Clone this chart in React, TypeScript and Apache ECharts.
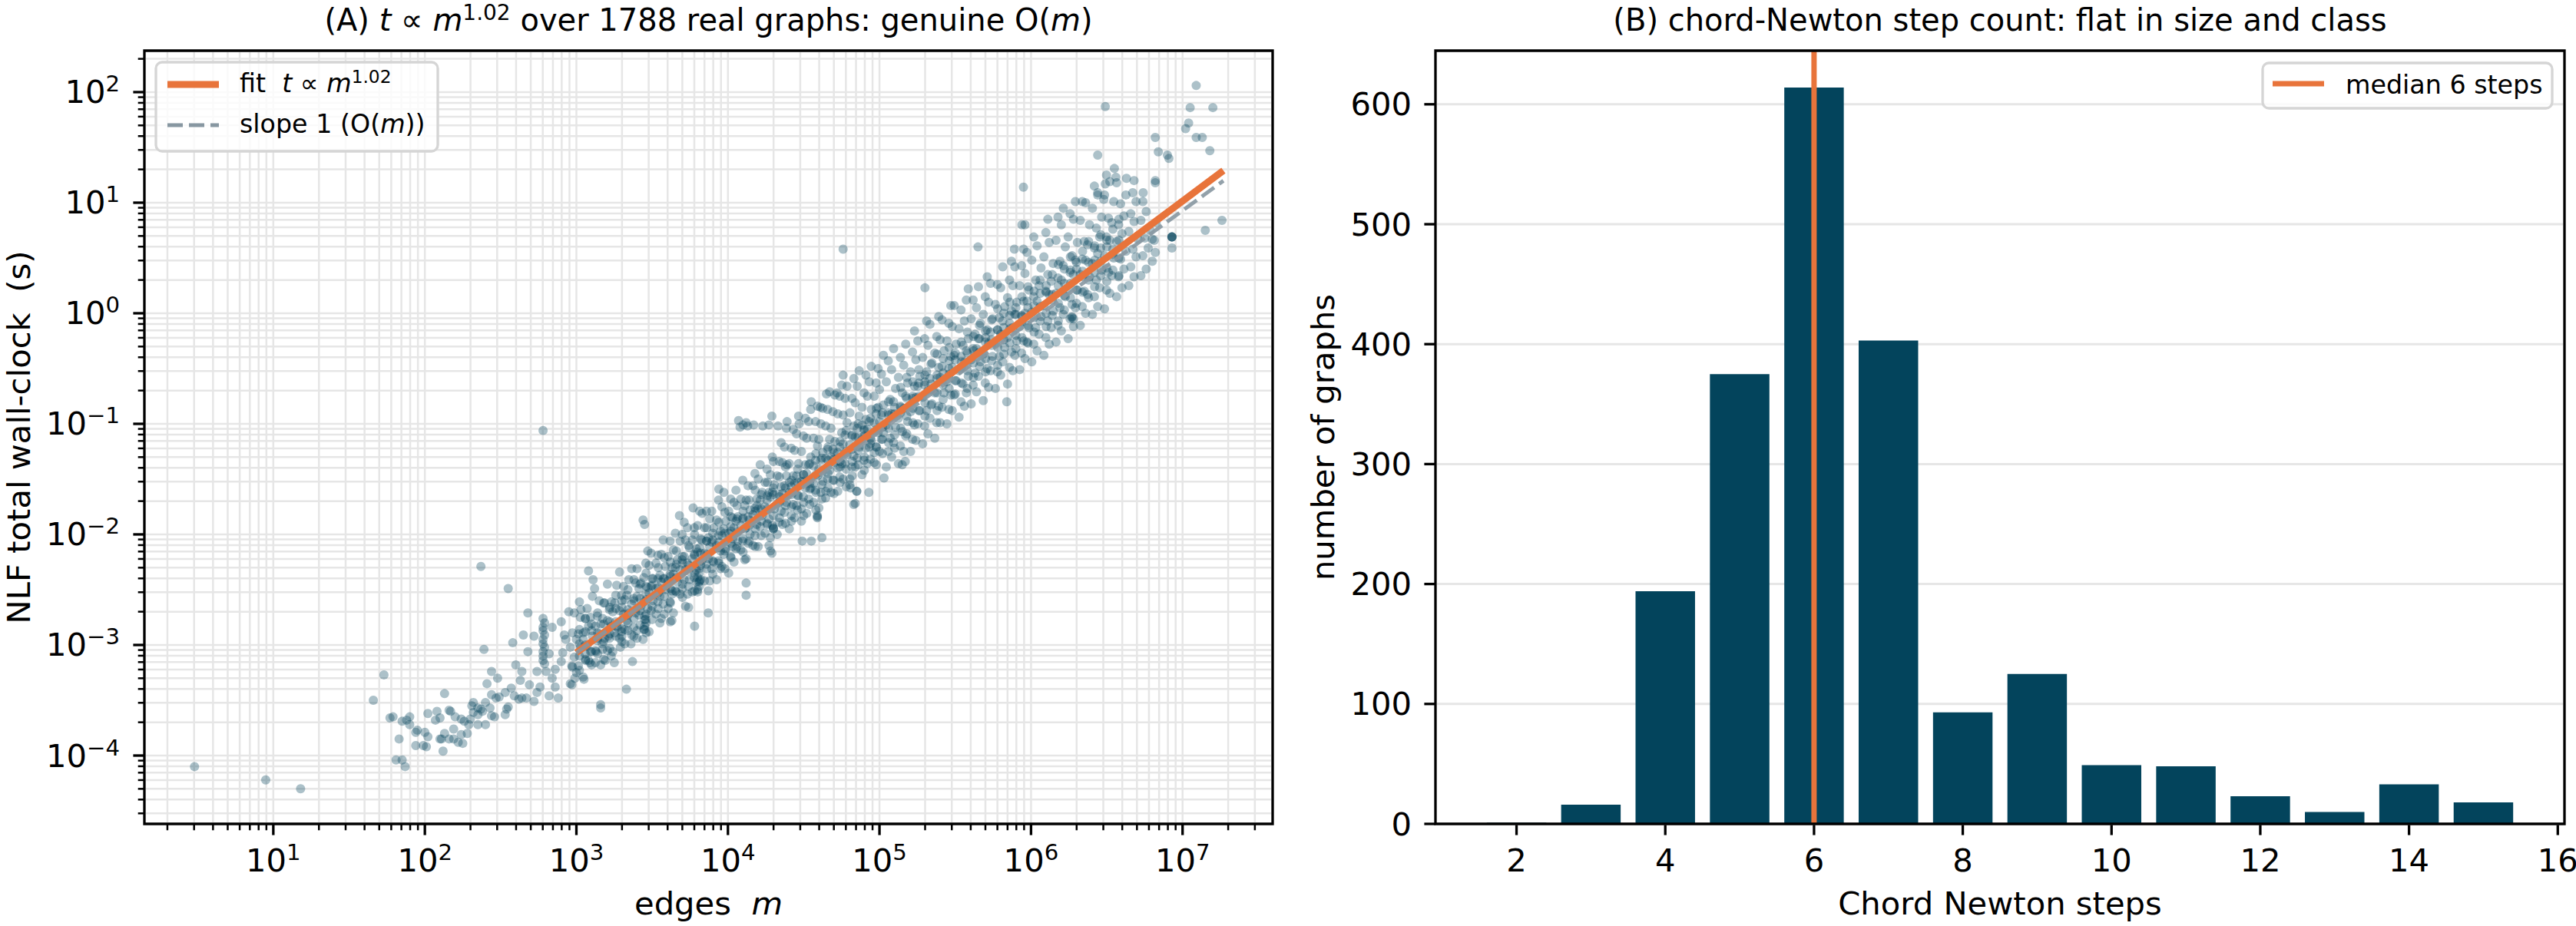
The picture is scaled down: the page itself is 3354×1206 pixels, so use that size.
import React, { useEffect, useRef } from "react";
import * as echarts from "echarts";

const FONT = "DejaVu Sans";
const INK = "#000000";
const DOT = "#03435a";
const BAR = "#03445c";
const ORANGE = "#e8743b";
const SLOPE = "#8797a1";
const GRIDC = "#e6e6e6";

// ---------------- Panel A : points, as [log10 m, log10 t] ----------------
const farLeftPoints = [[0.48, -4.10], [0.95, -4.22], [1.18, -4.30]];

const tailPoints = [
  [1.66, -3.50], [1.73, -3.27], [1.77, -3.66], [1.79, -3.65], [1.81, -4.04], [1.85, -4.04], [1.87, -4.10], [1.83, -3.85],
  [1.85, -3.69], [1.88, -3.68], [1.90, -3.65], [1.90, -3.72], [1.94, -3.79], [1.95, -3.77], [1.94, -3.91], [1.99, -3.91],
  [2.01, -3.92], [2.00, -3.79], [2.02, -3.62], [2.02, -3.83], [2.07, -3.68], [2.08, -3.60], [2.10, -3.66], [2.10, -3.85],
  [2.11, -3.85], [2.12, -3.96], [2.13, -3.80], [2.13, -3.44], [2.16, -3.59], [2.16, -3.85], [2.17, -3.60], [2.19, -3.76],
  [2.19, -3.85], [2.20, -3.65], [2.22, -3.88], [2.24, -3.67], [2.24, -3.81], [2.25, -3.89], [2.28, -3.80], [2.29, -3.72],
  [2.26, -3.69], [2.30, -3.67], [2.32, -3.61], [2.32, -3.52], [2.31, -3.55], [2.35, -3.57], [2.35, -3.63], [2.35, -3.72],
  [2.37, -3.58], [2.38, -3.60], [2.40, -3.72], [2.40, -3.52], [2.43, -3.57], [2.44, -3.45], [2.44, -3.64], [2.46, -3.65],
  [2.47, -3.48], [2.49, -3.47], [2.53, -3.43], [2.53, -3.63], [2.54, -3.58], [2.55, -3.56], [2.57, -3.39], [2.59, -3.46],
  [2.62, -3.49], [2.63, -3.32], [2.64, -3.48], [2.64, -3.24], [2.60, -3.18], [2.67, -3.48], [2.69, -3.36], [2.72, -3.51],
  [2.74, -3.43], [2.48, -3.30], [2.44, -3.24], [2.41, -3.35], [2.39, -3.04], [2.58, -2.98], [2.65, -2.91], [2.68, -2.71],
  [2.55, -2.49], [2.37, -2.29], [2.78, -1.06],
];

const columnPoints = [
  [2.78, -2.76], [2.79, -2.80], [2.78, -2.84], [2.78, -2.87], [2.79, -2.91], [2.78, -2.95], [2.78, -2.99], [2.79, -3.02],
  [2.78, -3.06], [2.78, -3.10], [2.78, -3.14], [2.79, -3.17],
  [3.45, -2.74], [3.45, -2.77], [3.46, -2.80], [3.45, -2.83], [3.45, -2.86], [3.46, -2.89],
  [3.81, -2.31], [3.81, -2.35], [3.80, -2.39], [3.81, -2.43], [3.81, -2.47], [3.80, -2.50],
  [3.16, -3.54], [3.16, -3.57],
];

const darkSpots = [
  [6.27, -0.04], [6.27, -0.03], [6.28, -0.05], [4.85, -1.61], [4.30, -1.94], [4.30, -1.95], [4.59, -1.84],
  [6.93, 0.69], [4.84, -1.72],
];

const nearFitStartPoints = [
  [2.72, -2.92], [2.68, -3.06], [2.82, -3.08], [2.86, -3.22], [2.80, -3.24], [2.84, -3.30], [2.74, -3.24], [2.76, -3.38],
  [2.82, -3.46], [2.88, -3.48], [2.86, -3.38], [2.90, -3.15], [2.91, -3.07], [2.84, -2.84], [2.90, -2.79], [2.93, -2.95],
  [2.92, -2.91], [2.95, -2.70], [3.02, -2.61], [3.03, -2.68], [2.97, -3.19], [3.06, -3.14], [3.09, -3.16], [3.05, -3.31],
  [2.97, -3.36], [2.99, -3.30], [3.08, -2.33], [3.11, -2.41], [3.12, -2.49], [3.33, -3.40], [3.37, -3.15], [3.25, -3.16],
  [3.19, -3.14], [3.23, -3.10], [3.13, -3.06], [3.17, -2.99], [3.21, -2.92], [3.29, -3.02], [3.36, -2.99], [3.30, -2.92],
  [3.27, -2.84], [3.34, -2.80], [3.40, -2.87], [3.44, -2.95],
];

const lowOutliers = [
  [3.62, -2.79], [3.63, -2.78], [3.78, -2.83], [3.74, -2.66], [3.87, -2.71], [4.12, -2.44], [4.12, -2.55], [4.29, -2.17],
  [4.28, -2.15], [4.62, -2.03], [4.55, -2.06], [4.49, -2.06], [4.59, -1.83], [4.59, -1.85], [4.83, -1.73], [4.85, -1.61],
  [4.81, -1.58], [4.93, -1.62], [5.03, -1.49], [5.15, -1.37], [5.17, -1.34], [5.84, -0.80],
];

const highOutliers = [
  [3.44, -1.87], [3.45, -1.91], [3.68, -1.83], [3.77, -1.76], [3.83, -1.81], [3.94, -1.59], [4.30, -1.34], [4.39, -1.37],
  [4.76, -0.56], [4.65, -0.73], [4.72, -0.72], [4.55, -0.80], [4.61, -0.85], [4.76, 0.58], [5.30, 0.23], [5.65, 0.60],
  [5.89, 0.58], [5.94, 0.80], [5.96, 0.80],
];

const rowPoints = [
  [4.07, -0.97], [4.08, -1.03], [4.10, -1.01], [4.12, -0.99], [4.13, -1.02], [4.17, -1.01], [4.23, -1.02], [4.27, -1.01],
  [4.29, -0.93], [4.33, -1.02], [4.39, -0.98], [4.47, -1.00],
];

const rightPoints = [
  [7.09, 2.06], [7.05, 1.86], [7.20, 1.86], [6.49, 1.87], [7.04, 1.72], [7.02, 1.67], [7.09, 1.59], [7.13, 1.59],
  [7.18, 1.47], [6.82, 1.59], [6.84, 1.46], [6.90, 1.43], [6.91, 1.40], [6.44, 1.43], [6.55, 1.31], [6.56, 1.23],
  [6.63, 1.22], [6.68, 1.20], [6.49, 1.17], [6.44, 1.09], [6.48, 1.03], [6.82, 1.20], [6.82, 1.18], [6.74, 1.09],
  [5.95, 1.14], [6.80, 0.67], [6.82, 0.55], [6.93, 0.69], [6.93, 0.69], [6.93, 0.69], [6.93, 0.59], [7.15, 0.75],
  [7.26, 0.84],
];

// spread of the band: [log10 m, [log10 t of the points in that thin column]]
const bandSlices: [number, number[]][] = [
  [2.96, [-3.35, -3.02]], [2.973, [-3.20, -2.89]], [2.986, [-3.11, -2.71]],
  [3.00, [-3.25, -2.95]], [3.013, [-3.19, -2.90]], [3.026, [-3.02, -2.75]],
  [3.045, [-3.29, -2.89, -2.95]], [3.058, [-3.08, -2.76]], [3.071, [-3.01, -2.67]],
  [3.08, [-3.14, -2.83]], [3.093, [-3.06, -2.75]], [3.106, [-2.92, -2.56]],
  [3.125, [-3.16, -2.83, -3.05]], [3.138, [-2.96, -2.74]], [3.151, [-2.90, -2.60]],
  [3.16, [-3.18, -2.81]], [3.173, [-3.04, -2.76]], [3.186, [-2.94, -2.62]],
  [3.205, [-3.05, -2.78, -2.45]], [3.218, [-2.94, -2.68]], [3.231, [-2.83, -2.61]],
  [3.24, [-3.06, -2.70]], [3.253, [-2.89, -2.62]], [3.266, [-2.83, -2.46]],
  [3.285, [-2.94, -2.69, -2.34]], [3.298, [-2.88, -2.55]], [3.311, [-2.72, -2.47]],
  [3.32, [-2.99, -2.59, -2.86]], [3.333, [-2.78, -2.55]], [3.346, [-2.71, -2.41]],
  [3.365, [-2.91, -2.63, -2.31]], [3.378, [-2.84, -2.58]], [3.391, [-2.71, -2.44]],
  [3.40, [-2.94, -2.56, -2.31]], [3.413, [-2.73, -2.49]], [3.426, [-2.65, -2.44]],
  [3.445, [-2.86, -2.61, -2.39]], [3.458, [-2.77, -2.54, -2.26]], [3.471, [-2.67, -2.48, -2.15]],
  [3.48, [-2.88, -2.53, -2.28]], [3.493, [-2.69, -2.47, -2.17]], [3.506, [-2.60, -2.40]],
  [3.525, [-2.72, -2.49, -2.26]], [3.538, [-2.61, -2.40, -2.19]], [3.551, [-2.56, -2.37, -2.80]],
  [3.56, [-2.76, -2.43, -2.18]], [3.573, [-2.63, -2.40, -2.05]], [3.586, [-2.50, -2.29]],
  [3.605, [-2.67, -2.42, -2.20]], [3.618, [-2.61, -2.36, -2.06]], [3.631, [-2.51, -2.30, -2.54]],
  [3.64, [-2.71, -2.36, -2.14]], [3.653, [-2.51, -2.30, -1.99]], [3.666, [-2.43, -2.23]],
  [3.685, [-2.54, -2.32, -2.06]], [3.698, [-2.49, -2.23, -2.00]], [3.711, [-2.41, -2.20, -1.89]],
  [3.72, [-2.65, -2.32, -2.05]], [3.733, [-2.54, -2.26, -1.94]], [3.746, [-2.41, -2.12]],
  [3.765, [-2.52, -2.22, -2.05]], [3.778, [-2.39, -2.18, -1.94]], [3.791, [-2.32, -2.13, -2.43]],
  [3.80, [-2.52, -2.16, -1.92]], [3.813, [-2.42, -2.12, -1.79]], [3.826, [-2.24, -2.05]],
  [3.845, [-2.42, -2.17, -1.94]], [3.858, [-2.27, -2.06, -1.79]], [3.871, [-2.22, -2.03, -2.51]],
  [3.88, [-2.42, -2.11, -1.86]], [3.893, [-2.31, -2.07, -1.79]], [3.906, [-2.25, -1.94]],
  [3.925, [-2.41, -2.10, -1.87]], [3.938, [-2.24, -2.01, -1.69]], [3.951, [-2.15, -1.97, -2.31]],
  [3.96, [-2.29, -2.01, -1.75]], [3.973, [-2.18, -1.95, -1.62]], [3.986, [-2.13, -1.88]],
  [4.005, [-2.35, -1.99, -1.79]], [4.018, [-2.20, -1.93, -1.68]], [4.031, [-2.04, -1.85, -2.11]],
  [4.04, [-2.25, -1.94, -1.71]], [4.053, [-2.13, -1.88, -1.60]], [4.066, [-2.06, -1.84]],
  [4.085, [-2.14, -1.92, -1.68]], [4.098, [-2.06, -1.86, -1.51]], [4.111, [-1.95, -1.74, -2.23]],
  [4.12, [-2.22, -1.94, -1.69]], [4.133, [-2.08, -1.84, -1.56]], [4.146, [-2.00, -1.78]],
  [4.165, [-2.10, -1.82, -1.56]], [4.178, [-2.01, -1.76, -1.45]], [4.191, [-1.91, -1.68, -1.74]],
  [4.20, [-2.11, -1.77, -1.50]], [4.213, [-1.93, -1.69, -1.37]], [4.226, [-1.83, -1.62]],
  [4.245, [-1.99, -1.75, -1.53]], [4.258, [-1.91, -1.69, -1.41]], [4.271, [-1.86, -1.62, -2.10]],
  [4.28, [-2.03, -1.66, -1.46]], [4.293, [-1.92, -1.62, -1.30]], [4.306, [-1.77, -1.55]],
  [4.325, [-2.00, -1.72, -1.47]], [4.338, [-1.89, -1.64, -1.34]], [4.351, [-1.79, -1.57, -1.17]],
  [4.36, [-1.91, -1.63, -1.35]], [4.373, [-1.80, -1.56, -1.21]], [4.386, [-1.71, -1.47, -1.04]],
  [4.405, [-1.95, -1.62, -1.36, -1.53]], [4.418, [-1.83, -1.57, -1.22]], [4.431, [-1.73, -1.47, -1.05]],
  [4.44, [-1.85, -1.54, -1.24]], [4.453, [-1.74, -1.47, -1.09]], [4.466, [-1.65, -1.36, -0.93]],
  [4.485, [-1.77, -1.52, -1.25, -1.88]], [4.498, [-1.66, -1.46, -1.11]], [4.511, [-1.58, -1.37, -0.95]],
  [4.52, [-1.81, -1.45, -1.13]], [4.533, [-1.68, -1.37, -0.98]], [4.546, [-1.58, -1.30, -0.87]],
  [4.565, [-1.71, -1.38, -1.13, -1.54]], [4.578, [-1.60, -1.33, -0.98]], [4.591, [-1.47, -1.20, -0.84]],
  [4.60, [-1.76, -1.41, -1.14]], [4.613, [-1.62, -1.33, -1.00]], [4.626, [-1.52, -1.26, -0.86]],
  [4.645, [-1.61, -1.31, -1.02, -1.67]], [4.658, [-1.50, -1.23, -0.87]], [4.671, [-1.42, -1.14, -0.71]],
  [4.68, [-1.62, -1.30, -1.04]], [4.693, [-1.51, -1.23, -0.89]], [4.706, [-1.35, -1.16, -0.74]],
  [4.725, [-1.61, -1.26, -0.91, -1.40]], [4.738, [-1.48, -1.21, -0.75]], [4.751, [-1.36, -1.08, -0.65]],
  [4.76, [-1.50, -1.18, -0.92]], [4.773, [-1.36, -1.10, -0.77]], [4.786, [-1.28, -0.99, -0.66]],
  [4.805, [-1.50, -1.19, -0.90, -1.55]], [4.818, [-1.39, -1.11, -0.77]], [4.831, [-1.29, -1.02, -0.59]],
  [4.84, [-1.39, -1.12, -0.81]], [4.853, [-1.31, -1.04, -0.66]], [4.866, [-1.21, -0.93, -0.52]],
  [4.885, [-1.46, -1.14, -0.85, -1.01]], [4.898, [-1.33, -1.06, -0.72]], [4.911, [-1.22, -0.96, -0.56]],
  [4.92, [-1.36, -1.05, -0.75]], [4.933, [-1.21, -0.98, -0.62]], [4.946, [-1.15, -0.87, -0.48]],
  [4.965, [-1.35, -0.99, -0.75, -1.26]], [4.978, [-1.21, -0.91, -0.63]], [4.991, [-1.08, -0.85, -0.50]],
  [5.00, [-1.25, -0.98, -0.69]], [5.013, [-1.14, -0.92, -0.55]], [5.026, [-1.08, -0.83, -0.38]],
  [5.045, [-1.39, -1.01, -0.62]], [5.058, [-1.25, -0.90, -0.43]], [5.071, [-1.13, -0.78]],
  [5.08, [-1.30, -0.91, -0.51]], [5.093, [-1.17, -0.80, -0.32]], [5.106, [-1.03, -0.68]],
  [5.125, [-1.36, -0.95, -0.58]], [5.138, [-1.20, -0.84, -0.40]], [5.151, [-1.07, -0.72]],
  [5.16, [-1.25, -0.86, -0.47]], [5.173, [-1.11, -0.75, -0.28]], [5.186, [-0.98, -0.63]],
  [5.205, [-1.25, -0.89, -0.53]], [5.218, [-1.14, -0.77, -0.35]], [5.231, [-1.01, -0.66, -0.16]],
  [5.24, [-1.15, -0.76, -0.42]], [5.253, [-1.00, -0.66, -0.25]], [5.266, [-0.88, -0.57]],
  [5.285, [-1.18, -0.76, -0.40]], [5.298, [-1.02, -0.65, -0.23]], [5.311, [-0.88, -0.53, -0.07]],
  [5.32, [-1.09, -0.70, -0.29]], [5.333, [-0.95, -0.59, -0.10]], [5.346, [-0.82, -0.45]],
  [5.365, [-1.13, -0.72, -0.36]], [5.378, [-0.99, -0.59, -0.21]], [5.391, [-0.84, -0.49, -0.03]],
  [5.40, [-0.99, -0.58, -0.24]], [5.413, [-0.85, -0.48, -0.06]], [5.426, [-0.72, -0.34]],
  [5.445, [-1.00, -0.62, -0.25]], [5.458, [-0.87, -0.50, -0.09]], [5.471, [-0.74, -0.39, 0.07]],
  [5.48, [-0.88, -0.49, -0.12]], [5.493, [-0.74, -0.38, 0.07]], [5.506, [-0.61, -0.28]],
  [5.525, [-0.94, -0.52, -0.14]], [5.538, [-0.80, -0.39, 0.03]], [5.551, [-0.64, -0.29]],
  [5.56, [-0.84, -0.44, -0.07]], [5.573, [-0.72, -0.34, 0.12]], [5.586, [-0.57, -0.23, 0.22]],
  [5.605, [-0.82, -0.42, -0.05]], [5.618, [-0.65, -0.32, 0.12]], [5.631, [-0.54, -0.19]],
  [5.64, [-0.71, -0.32, 0.05]], [5.653, [-0.57, -0.23, 0.24]], [5.666, [-0.44, -0.09]],
  [5.685, [-0.79, -0.37, -0.01]], [5.698, [-0.63, -0.26, 0.15]], [5.711, [-0.50, -0.15, 0.33]],
  [5.72, [-0.67, -0.27, 0.10]], [5.733, [-0.52, -0.17, 0.27]], [5.746, [-0.39, -0.05]],
  [5.765, [-0.68, -0.27, 0.08]], [5.778, [-0.53, -0.15, 0.26]], [5.791, [-0.39, -0.04]],
  [5.80, [-0.56, -0.19, 0.23]], [5.813, [-0.44, -0.07, 0.42]], [5.826, [-0.31, 0.06]],
  [5.845, [-0.64, -0.22, 0.14]], [5.858, [-0.49, -0.09, 0.30]], [5.871, [-0.35, 0.02, 0.47]],
  [5.88, [-0.52, -0.13, 0.25]], [5.893, [-0.38, -0.01, 0.42]], [5.906, [-0.25, 0.10]],
  [5.925, [-0.51, -0.12, 0.25]], [5.938, [-0.36, -0.02, 0.43]], [5.951, [-0.25, 0.11, 0.58]],
  [5.96, [-0.41, 0.00, 0.36]], [5.973, [-0.26, 0.11, 0.55]], [5.986, [-0.13, 0.21]],
  [6.005, [-0.44, 0.01, 0.48]], [6.018, [-0.28, 0.15, 0.69]], [6.031, [-0.13, 0.30]],
  [6.04, [-0.34, 0.11, 0.61]], [6.053, [-0.19, 0.25]], [6.066, [-0.03, 0.41]],
  [6.085, [-0.38, 0.07, 0.51]], [6.098, [-0.22, 0.20, 0.73]], [6.111, [-0.07, 0.35, 0.85]],
  [6.12, [-0.28, 0.17, 0.64]], [6.133, [-0.13, 0.29]], [6.146, [0.02, 0.45]],
  [6.165, [-0.26, 0.18, 0.66]], [6.178, [-0.11, 0.32, 0.87]], [6.191, [0.05, 0.47]],
  [6.20, [-0.16, 0.30, 0.80]], [6.213, [-0.01, 0.43, 0.95]], [6.226, [0.15, 0.60]],
  [6.245, [-0.23, 0.22, 0.69]], [6.258, [-0.05, 0.37, 0.90]], [6.271, [0.08, 0.52]],
  [6.28, [-0.12, 0.35, 0.85]], [6.293, [0.05, 0.48, 1.01]], [6.306, [0.21, 0.64]],
  [6.325, [-0.11, 0.35, 0.84]], [6.338, [0.06, 0.49, 1.01]], [6.351, [0.20, 0.65]],
  [6.36, [0.00, 0.48, 1.00]], [6.373, [0.17, 0.62]], [6.386, [0.33, 0.80]],
  [6.405, [-0.01, 0.45, 0.95]], [6.418, [0.15, 0.59, 1.15]], [6.431, [0.30, 0.77]],
  [6.44, [0.06, 0.54, 1.07]], [6.453, [0.23, 0.69]], [6.466, [0.39, 0.87]],
  [6.485, [0.04, 0.52, 1.07]], [6.498, [0.21, 0.69, 1.25]], [6.511, [0.37, 0.86]],
  [6.52, [0.18, 0.66, 1.19]], [6.533, [0.34, 0.82]], [6.546, [0.50, 1.01]],
  [6.565, [0.15, 0.65, 1.18]], [6.578, [0.33, 0.80]], [6.591, [0.49, 0.99]],
  [6.60, [0.23, 0.72]], [6.613, [0.40, 0.88]], [6.626, [0.56, 1.07]],
  [6.645, [0.25, 0.74]], [6.658, [0.42, 0.90]], [6.671, [0.58, 1.09]],
  [6.68, [0.33, 0.83]], [6.693, [0.51, 1.01]], [6.706, [0.67]],
  [6.725, [0.34, 0.84]], [6.738, [0.52, 1.01]], [6.751, [0.68]],
  [6.76, [0.40, 0.92]], [6.773, [0.59]], [6.786, [0.75]],
  [6.80, [0.47]], [6.813, [0.66]], [6.826, [0.82]],
];

// darker core of the band
const coreSlices: [number, number[]][] = [
  [3.02, [-3.23, -3.10, -2.99, -2.86]], [3.06, [-3.13, -3.00, -2.88, -2.76]], [3.10, [-3.18, -3.06, -2.87, -2.81]],
  [3.14, [-3.08, -2.94, -2.89, -2.71]], [3.18, [-3.13, -2.97, -2.81, -2.62]], [3.22, [-3.03, -2.90, -2.79, -2.66]],
  [3.26, [-2.92, -2.79, -2.67, -2.55]], [3.30, [-2.97, -2.85, -2.66, -2.60]], [3.34, [-2.87, -2.73, -2.68, -2.50]],
  [3.38, [-2.92, -2.76, -2.60, -2.41]], [3.42, [-2.82, -2.69, -2.58, -2.45]], [3.46, [-2.72, -2.59, -2.47, -2.35]],
  [3.50, [-2.77, -2.65, -2.46, -2.40]], [3.54, [-2.67, -2.53, -2.48, -2.30]], [3.58, [-2.72, -2.56, -2.40, -2.21]],
  [3.62, [-2.62, -2.49, -2.38, -2.25]], [3.66, [-2.52, -2.39, -2.27, -2.15]], [3.70, [-2.57, -2.45, -2.26, -2.20]],
  [3.74, [-2.47, -2.33, -2.28, -2.10]], [3.78, [-2.51, -2.35, -2.19, -2.00]], [3.82, [-2.41, -2.28, -2.17, -2.04]],
  [3.86, [-2.31, -2.18, -2.06, -1.94]], [3.90, [-2.36, -2.24, -2.05, -1.99]], [3.94, [-2.26, -2.12, -2.07, -1.89]],
  [3.98, [-2.31, -2.15, -1.99, -1.80]], [4.02, [-2.21, -2.08, -1.97, -1.84]], [4.06, [-2.11, -1.98, -1.86, -1.74]],
  [4.10, [-2.16, -2.04, -1.85, -1.79]], [4.14, [-2.06, -1.92, -1.87, -1.69]], [4.18, [-2.11, -1.95, -1.79, -1.60]],
  [4.22, [-2.01, -1.88, -1.77, -1.64]], [4.26, [-1.90, -1.77, -1.65, -1.53]], [4.30, [-1.95, -1.83, -1.64, -1.58]],
  [4.34, [-1.85, -1.71, -1.66, -1.48]], [4.38, [-1.90, -1.74, -1.58, -1.39]], [4.42, [-1.88, -1.75, -1.64, -1.51]],
  [4.46, [-1.78, -1.65, -1.53, -1.41]], [4.50, [-1.83, -1.71, -1.52, -1.46]], [4.54, [-1.73, -1.59, -1.54, -1.36]],
  [4.58, [-1.78, -1.62, -1.46, -1.27]], [4.62, [-1.68, -1.55, -1.44, -1.31]], [4.66, [-1.58, -1.45, -1.33, -1.21]],
  [4.70, [-1.63, -1.51, -1.32, -1.26]], [4.74, [-1.53, -1.39, -1.34, -1.16]], [4.78, [-1.57, -1.41, -1.25, -1.06]],
  [4.82, [-1.47, -1.34, -1.23, -1.10]], [4.86, [-1.37, -1.24, -1.12, -1.00]], [4.90, [-1.42, -1.30, -1.11, -1.05]],
  [4.94, [-1.32, -1.18, -1.13, -0.95]], [4.98, [-1.37, -1.21, -1.05, -0.86]], [5.02, [-1.27, -1.14, -1.03, -0.90]],
  [5.06, [-1.17, -1.04, -0.92, -0.80]], [5.10, [-1.22, -1.10, -0.91, -0.85]], [5.14, [-1.04, -0.90, -0.85, -0.67]],
  [5.18, [-1.09, -0.93, -0.77, -0.58]], [5.22, [-0.99, -0.86, -0.75, -0.62]], [5.26, [-0.88, -0.75, -0.63, -0.51]],
  [5.30, [-0.93, -0.81, -0.62, -0.56]], [5.34, [-0.83, -0.69, -0.64, -0.46]], [5.38, [-0.88, -0.72, -0.56, -0.37]],
  [5.42, [-0.78, -0.65, -0.54, -0.41]], [5.46, [-0.68, -0.55, -0.43, -0.31]], [5.50, [-0.73, -0.61, -0.42, -0.36]],
  [5.54, [-0.63, -0.49, -0.44, -0.26]], [5.58, [-0.68, -0.52, -0.36, -0.17]], [5.62, [-0.58, -0.45, -0.34, -0.21]],
  [5.66, [-0.48, -0.35, -0.23, -0.11]], [5.70, [-0.53, -0.41, -0.22, -0.16]], [5.74, [-0.43, -0.29, -0.24, -0.06]],
  [5.78, [-0.47, -0.31, -0.15, 0.04]], [5.82, [-0.37, -0.24, -0.13, 0.00]], [5.86, [-0.27, -0.14, -0.02, 0.10]],
  [5.90, [-0.32, -0.20, -0.01, 0.05]], [5.94, [-0.22, -0.08, -0.03, 0.15]], [5.98, [-0.27, -0.11, 0.05, 0.24]],
  [6.02, [-0.17, -0.04, 0.07, 0.20]], [6.06, [-0.07, 0.06, 0.18, 0.30]], [6.10, [-0.12, 0.00, 0.19, 0.25]],
  [6.14, [-0.02, 0.12, 0.17, 0.35]], [6.18, [-0.07, 0.09, 0.25, 0.44]], [6.22, [0.03, 0.16, 0.27, 0.40]],
  [6.26, [0.14, 0.27, 0.39, 0.51]], [6.30, [0.09, 0.21, 0.40, 0.46]], [6.34, [0.19, 0.33, 0.38, 0.56]],
  [6.38, [0.14, 0.30, 0.46, 0.65]], [6.42, [0.24, 0.37, 0.48, 0.61]], [6.46, [0.34, 0.47, 0.59, 0.71]],
  [6.50, [0.29, 0.41, 0.60, 0.66]], [6.54, [0.39, 0.53, 0.58, 0.76]], [6.58, [0.34, 0.50, 0.66, 0.85]],
];

// fitted power law and the slope-1 reference, as drawn (m, t) end points
const fitLine = [[1000, 8.5e-4], [1.86e7, 19.5]];
const slopeOneLine = [[1000, 8.5e-4], [1.86e7, 15.8]];

// ---------------- Panel B ----------------
const stepCounts = [2, 3, 4, 5, 6, 7, 8, 9, 10, 11, 12, 13, 14, 15];
const graphCounts = [1, 16, 194, 375, 614, 403, 93, 125, 49, 48, 23, 10, 33, 18];
const medianSteps = 6;

// ---------------- ticks / ranges ----------------
const xMajorExps = [1, 2, 3, 4, 5, 6, 7];
const yMajorExps = [-4, -3, -2, -1, 0, 1, 2];
const minorMults = [2, 3, 4, 5, 6, 7, 8, 9];
const bXTicks = [2, 4, 6, 8, 10, 12, 14, 16];
const bYTicks = [0, 100, 200, 300, 400, 500, 600];
const xRangeA = [1.41, 3.93e7];
const yRangeA = [2.41e-5, 237];
const xRangeB = [0.91, 16.09];
const yRangeB = [0, 644.7];

const GA = { left: 188, top: 66, width: 1469, height: 1007 };
const GB = { left: 1869, top: 66, width: 1470, height: 1007 };

const supTxt = (e: number) => (e < 0 ? "\u2212" + Math.abs(e) : String(e));

const powRich = {
  b: { fontSize: 41.7, fontFamily: FONT, lineHeight: 50, fill: INK },
  s: { fontSize: 29.2, fontFamily: FONT, lineHeight: 24, verticalAlign: "top", fill: INK },
};
const titleRich = {
  n: { fontSize: 40, fontFamily: FONT, lineHeight: 48, fill: INK },
  i: { fontSize: 40, fontFamily: FONT, fontStyle: "italic", lineHeight: 48, fill: INK },
  s: { fontSize: 28, fontFamily: FONT, lineHeight: 22, verticalAlign: "top", fill: INK },
};
const legRich = {
  n: { fontSize: 33.3, fontFamily: FONT, lineHeight: 40, fill: INK },
  i: { fontSize: 33.3, fontFamily: FONT, fontStyle: "italic", lineHeight: 40, fill: INK },
  s: { fontSize: 23.3, fontFamily: FONT, lineHeight: 18, verticalAlign: "top", fill: INK },
};
const labRich = {
  n: { fontSize: 41.7, fontFamily: FONT, fill: INK },
  i: { fontSize: 41.7, fontFamily: FONT, fontStyle: "italic", fill: INK },
};

function buildOption() {
  const flat = (s: [number, number[]][]) => s.flatMap(([x, ys]) => ys.map((y) => [x, y]));
  const allLog = [
    ...farLeftPoints, ...tailPoints, ...columnPoints, ...darkSpots, ...nearFitStartPoints, ...lowOutliers,
    ...highOutliers, ...rowPoints, ...rightPoints, ...flat(bandSlices), ...flat(coreSlices),
  ];
  const scatterData = allLog.map(([a, b]) => [Math.pow(10, a), Math.pow(10, b)]);

  // decoration items for panel A: [x, y, kind, exponent]
  const decoA: number[][] = [];
  xMajorExps.forEach((e) => decoA.push([Math.pow(10, e), yRangeA[0], 0, e]));
  for (let k = 0; k <= 7; k++)
    minorMults.forEach((j) => {
      const v = j * Math.pow(10, k);
      if (v > xRangeA[0] && v < xRangeA[1]) decoA.push([v, yRangeA[0], 1, 0]);
    });
  yMajorExps.forEach((e) => decoA.push([xRangeA[0], Math.pow(10, e), 2, e]));
  for (let k = -5; k <= 2; k++)
    minorMults.forEach((j) => {
      const v = j * Math.pow(10, k);
      if (v > yRangeA[0] && v < yRangeA[1]) decoA.push([xRangeA[0], v, 3, 0]);
    });

  const decoB: number[][] = [];
  bXTicks.forEach((t) => decoB.push([t, yRangeB[0], 0]));
  bYTicks.forEach((t) => decoB.push([xRangeB[0], t, 2]));

  const hidden = {
    axisLine: { show: false }, axisTick: { show: false }, axisLabel: { show: false }, splitLine: { show: false },
  };

  const renderDecoA = (params: any, api: any) => {
    const xv = api.value(0), yv = api.value(1), kind = api.value(2), e = api.value(3);
    const ch: any[] = [];
    if (kind <= 1) {
      const pb = api.coord([xv, yRangeA[0]]);
      const pt = api.coord([xv, yRangeA[1]]);
      const major = kind === 0;
      ch.push({ type: "line", shape: { x1: pb[0], y1: pt[1] + 2, x2: pb[0], y2: pb[1] - 2 }, style: { stroke: GRIDC, lineWidth: 2.5 } });
      ch.push({ type: "line", shape: { x1: pb[0], y1: pb[1], x2: pb[0], y2: pb[1] + (major ? 14.6 : 8.3) }, style: { stroke: INK, lineWidth: major ? 3.3 : 2.5 } });
      if (major)
        ch.push({ type: "text", x: pb[0], y: pb[1] + 22, style: { text: `{b|10}{s|${supTxt(e)}}`, rich: powRich, align: "center", verticalAlign: "top", fill: INK, fontFamily: FONT, fontSize: 41.7 } });
    } else {
      const pl = api.coord([xRangeA[0], yv]);
      const pr = api.coord([xRangeA[1], yv]);
      const major = kind === 2;
      ch.push({ type: "line", shape: { x1: pl[0] + 2, y1: pl[1], x2: pr[0] - 2, y2: pl[1] }, style: { stroke: GRIDC, lineWidth: 2.5 } });
      ch.push({ type: "line", shape: { x1: pl[0], y1: pl[1], x2: pl[0] - (major ? 14.6 : 8.3), y2: pl[1] }, style: { stroke: INK, lineWidth: major ? 3.3 : 2.5 } });
      if (major)
        ch.push({ type: "text", x: pl[0] - 32, y: pl[1], style: { text: `{b|10}{s|${supTxt(e)}}`, rich: powRich, align: "right", verticalAlign: "middle", fill: INK, fontFamily: FONT, fontSize: 41.7 } });
    }
    return { type: "group", children: ch };
  };

  const renderDecoB = (params: any, api: any) => {
    const xv = api.value(0), yv = api.value(1), kind = api.value(2);
    const ch: any[] = [];
    if (kind === 0) {
      const pb = api.coord([xv, yRangeB[0]]);
      ch.push({ type: "line", shape: { x1: pb[0], y1: pb[1], x2: pb[0], y2: pb[1] + 14.6 }, style: { stroke: INK, lineWidth: 3.3 } });
      ch.push({ type: "text", x: pb[0], y: pb[1] + 47, style: { text: String(xv), align: "center", verticalAlign: "middle", fill: INK, fontFamily: FONT, fontSize: 41.7 } });
    } else {
      const pl = api.coord([xRangeB[0], yv]);
      const pr = api.coord([xRangeB[1], yv]);
      ch.push({ type: "line", shape: { x1: pl[0] + 2, y1: pl[1], x2: pr[0] - 2, y2: pl[1] }, style: { stroke: GRIDC, lineWidth: 3 } });
      ch.push({ type: "line", shape: { x1: pl[0], y1: pl[1], x2: pl[0] - 14.6, y2: pl[1] }, style: { stroke: INK, lineWidth: 3.3 } });
      ch.push({ type: "text", x: pl[0] - 31, y: pl[1], style: { text: String(yv), align: "right", verticalAlign: "middle", fill: INK, fontFamily: FONT, fontSize: 41.7 } });
    }
    return { type: "group", children: ch };
  };

  const renderBar = (params: any, api: any) => {
    const x = api.value(0), h = api.value(1);
    const p0 = api.coord([x - 0.4, h]);
    const p1 = api.coord([x + 0.4, 0]);
    return { type: "rect", shape: { x: p0[0], y: p0[1], width: p1[0] - p0[0], height: p1[1] - p0[1] }, style: { fill: BAR } };
  };

  const Z = 100;
  const graphic: any[] = [
    { type: "text", z: Z, x: GA.left + GA.width / 2, y: 26, style: { text: "{n|(A) }{i|t}{n| \u221d }{i|m}{s|1.02}{n| over 1788 real graphs: genuine O(}{i|m}{n|)}", rich: titleRich, align: "center", verticalAlign: "middle" } },
    { type: "text", z: Z, x: GB.left + GB.width / 2, y: 26, style: { text: "(B) chord-Newton step count: flat in size and class", fill: INK, fontFamily: FONT, fontSize: 40, align: "center", verticalAlign: "middle" } },
    { type: "text", z: Z, x: GA.left + GA.width / 2, y: 1176, style: { text: "{n|edges  }{i|m}", rich: labRich, align: "center", verticalAlign: "middle" } },
    { type: "text", z: Z, x: GB.left + GB.width / 2, y: 1176, style: { text: "Chord Newton steps", fill: INK, fontFamily: FONT, fontSize: 41.7, align: "center", verticalAlign: "middle" } },
    { type: "text", z: Z, x: 24, y: GA.top + GA.height / 2, rotation: Math.PI / 2, style: { text: "NLF total wall-clock  (s)", fill: INK, fontFamily: FONT, fontSize: 41.7, align: "center", verticalAlign: "middle" } },
    { type: "text", z: Z, x: 1722, y: GB.top + GB.height / 2, rotation: Math.PI / 2, style: { text: "number of graphs", fill: INK, fontFamily: FONT, fontSize: 41.7, align: "center", verticalAlign: "middle" } },
    { type: "rect", z: Z, shape: { x: 203, y: 81, width: 367, height: 116, r: 8 }, style: { fill: "rgba(255,255,255,0.8)", stroke: "#d5d5d5", lineWidth: 3.3 } },
    { type: "line", z: Z, shape: { x1: 218, y1: 110, x2: 285, y2: 110 }, style: { stroke: ORANGE, lineWidth: 9 } },
    { type: "text", z: Z, x: 312, y: 108, style: { text: "{n|fit  }{i|t}{n| \u221d }{i|m}{s|1.02}", rich: legRich, align: "left", verticalAlign: "middle" } },
    { type: "line", z: Z, shape: { x1: 218, y1: 163, x2: 285, y2: 163 }, style: { stroke: SLOPE, lineWidth: 5, lineDash: [20, 8] } },
    { type: "text", z: Z, x: 312, y: 161, style: { text: "{n|slope 1 (O(}{i|m}{n|))}", rich: legRich, align: "left", verticalAlign: "middle" } },
    { type: "rect", z: Z, shape: { x: 2946, y: 82, width: 377, height: 59, r: 8 }, style: { fill: "rgba(255,255,255,0.8)", stroke: "#d5d5d5", lineWidth: 3.3 } },
    { type: "line", z: Z, shape: { x1: 2959, y1: 109, x2: 3026, y2: 109 }, style: { stroke: ORANGE, lineWidth: 7 } },
    { type: "text", z: Z, x: 3054, y: 110, style: { text: "median 6 steps", fill: INK, fontFamily: FONT, fontSize: 33.3, align: "left", verticalAlign: "middle" } },
  ];

  return {
    animation: false,
    backgroundColor: "#ffffff",
    grid: [
      { ...GA, show: true, z: 50, borderColor: INK, borderWidth: 3.3, backgroundColor: "transparent", containLabel: false },
      { ...GB, show: true, z: 50, borderColor: INK, borderWidth: 3.3, backgroundColor: "transparent", containLabel: false },
    ],
    xAxis: [
      { type: "log", logBase: 10, gridIndex: 0, min: xRangeA[0], max: xRangeA[1], ...hidden },
      { type: "value", gridIndex: 1, min: xRangeB[0], max: xRangeB[1], ...hidden },
    ],
    yAxis: [
      { type: "log", logBase: 10, gridIndex: 0, min: yRangeA[0], max: yRangeA[1], ...hidden },
      { type: "value", gridIndex: 1, min: yRangeB[0], max: yRangeB[1], ...hidden },
    ],
    graphic,
    series: [
      { type: "custom", xAxisIndex: 0, yAxisIndex: 0, z: 1, silent: true, clip: false, data: decoA, renderItem: renderDecoA },
      { type: "scatter", xAxisIndex: 0, yAxisIndex: 0, z: 2, silent: true, symbol: "circle", symbolSize: 12, data: scatterData, itemStyle: { color: DOT, opacity: 0.33, borderWidth: 0 } },
      { type: "line", xAxisIndex: 0, yAxisIndex: 0, z: 3, silent: true, symbol: "none", data: fitLine, lineStyle: { color: ORANGE, width: 9, cap: "butt" } },
      { type: "line", xAxisIndex: 0, yAxisIndex: 0, z: 4, silent: true, symbol: "none", data: slopeOneLine, lineStyle: { color: SLOPE, width: 5, type: [20, 8], opacity: 0.9 } },
      { type: "custom", xAxisIndex: 1, yAxisIndex: 1, z: 1, silent: true, clip: false, data: decoB, renderItem: renderDecoB },
      { type: "custom", xAxisIndex: 1, yAxisIndex: 1, z: 2, silent: true, data: stepCounts.map((s, i) => [s, graphCounts[i]]), renderItem: renderBar },
      { type: "line", xAxisIndex: 1, yAxisIndex: 1, z: 3, silent: true, symbol: "none", data: [[medianSteps, yRangeB[0]], [medianSteps, yRangeB[1]]], lineStyle: { color: ORANGE, width: 7 } },
    ],
  };
}

export default function App() {
  const ref = useRef<HTMLDivElement>(null);
  useEffect(() => {
    document.body.style.margin = "0";
    if (!ref.current) return;
    const chart = echarts.init(ref.current, null, { renderer: "svg" });
    chart.setOption(buildOption() as any);
    return () => chart.dispose();
  }, []);
  return <div ref={ref} style={{ position: "absolute", left: 0, top: 0, width: 3354, height: 1206, background: "#fff" }} />;
}
